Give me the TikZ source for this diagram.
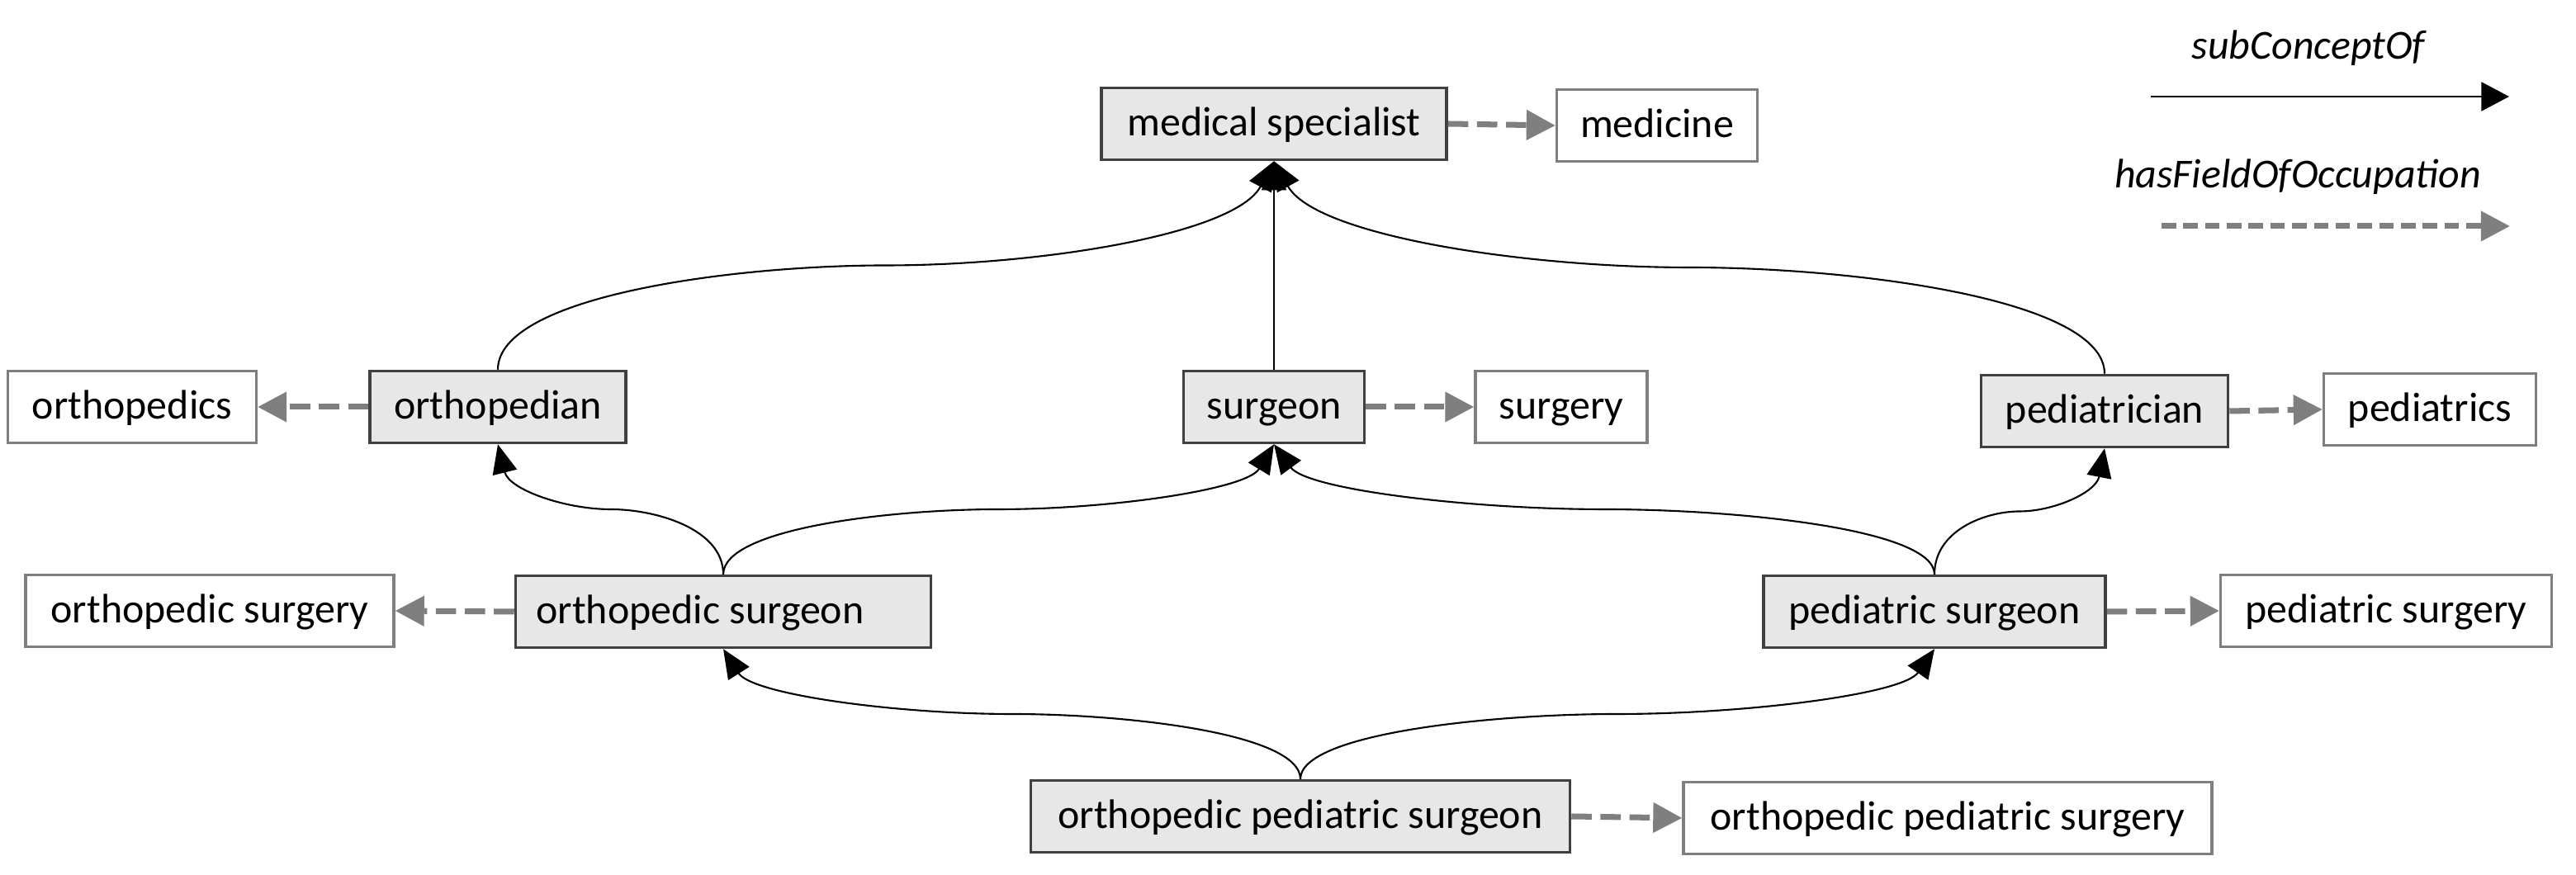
\documentclass[tikz,border=0pt]{standalone}
\usepackage{fontspec}
\setmainfont{Carlito}
\usetikzlibrary{arrows.meta, calc}
\definecolor{conceptgray}{RGB}{231,231,231}
\definecolor{darkedge}{RGB}{64,64,64}
\definecolor{occgray}{RGB}{127,127,127}

\begin{document}
\begin{tikzpicture}[
  conceptbox/.style={draw=darkedge, line width=1pt, fill=conceptgray, minimum height=0.87cm, inner sep=0pt, text height=0.38cm, text depth=0.08cm},
  fieldbox/.style={draw=occgray, line width=0.9pt, fill=white, minimum height=0.87cm, inner sep=0pt, text height=0.38cm, text depth=0.08cm},
  isa/.style={-{Triangle[length=10pt, width=8.5pt]}, line width=0.6pt, black},
  % two bends, level in the middle
  isacurve/.style={isa, to path={let \p1=(\tikztostart), \p2=(\tikztotarget), \p3=($(\p1)!0.5!(\p2)$) in
    .. controls +(0pt,{0.35*(\y2-\y1)}) and +({-0.2*(\x2-\x1)},0pt) .. (\p3)
    .. controls +({0.2*(\x2-\x1)},0pt) and +({-0.05*(\x2-\x1)},{-0.35*(\y2-\y1)}) .. (\tikztotarget)}},
  occ/.style={-{Triangle[length=10pt, width=10pt]}, line width=2pt, occgray, dash pattern=on 7pt off 3pt},
  font=\fontsize{14.2}{17}\selectfont
]
  \useasboundingbox (0,0) rectangle (31.2,10.6);

  % Top concept
  \node[conceptbox, minimum width=4.18cm] (ms) at (15.43, 9.10) {medical specialist};
  \node[fieldbox, minimum width=2.43cm] (medi) at (20.07, 9.08) {medicine};

  % Middle row
  \node[fieldbox, minimum width=3.01cm] (orthics) at (1.60, 5.67) {orthopedics};
  \node[conceptbox, minimum width=3.10cm] (orth) at (6.03, 5.67) {orthopedian};
  \node[conceptbox, minimum width=2.19cm] (surg) at (15.43, 5.67) {surgeon};
  \node[fieldbox, minimum width=2.08cm] (surgy) at (18.91, 5.67) {surgery};
  \node[conceptbox, minimum width=2.99cm] (ped) at (25.49, 5.62) {pediatrician};
  \node[fieldbox, minimum width=2.57cm] (peds) at (29.43, 5.64) {pediatrics};

  % Surgeon row
  \node[fieldbox, minimum width=4.46cm] (osy) at (2.54, 3.20) {orthopedic surgery};
  \node[conceptbox, minimum width=5.03cm] (os) at (8.76, 3.19) {\makebox[4.53cm][l]{orthopedic surgeon}};
  \node[conceptbox, minimum width=4.14cm] (ps) at (23.43, 3.19) {pediatric surgeon};
  \node[fieldbox, minimum width=4.01cm] (psy) at (28.90, 3.20) {pediatric surgery};

  % Bottom concept
  \node[conceptbox, minimum width=6.53cm] (ops) at (15.75, 0.71) {orthopedic pediatric surgeon};
  \node[fieldbox, minimum width=6.40cm] (opsy) at (23.59, 0.69) {orthopedic pediatric surgery};

  % subConceptOf links
  \draw[isacurve] (orth.north) to (ms.south);
  \draw[isa] (surg.north) -- (ms.south);
  \draw[isacurve] (ped.north) to (ms.south);
  \draw[isacurve] (os.north) to (orth.south);
  \draw[isacurve] (os.north) to (surg.south);
  \draw[isacurve] (ps.north) to (surg.south);
  \draw[isacurve] (ps.north) to (ped.south);
  \draw[isacurve] (ops.north) to (os.south);
  \draw[isacurve] (ops.north) to (ps.south);

  % hasFieldOfOccupation links
  \draw[occ] (ms.east) -- (medi.west);
  \draw[occ] (orth.west) -- (orthics.east);
  \draw[occ] (surg.east) -- (surgy.west);
  \draw[occ] (ped.east) -- (peds.west);
  \draw[occ] (os.west) -- (osy.east);
  \draw[occ] (ps.east) -- (psy.west);
  \draw[occ] (ops.east) -- (opsy.west);

  % Legend
  \node[font=\fontsize{14.2}{17}\selectfont\itshape, text height=0.38cm, text depth=0.08cm] (subl) at (27.96, 10.03) {subConceptOf};
  \coordinate (subA) at (26.05, 9.43);
  \coordinate (subB) at (30.39, 9.43);
  \draw[isa, -{Triangle[length=9.6pt, width=10pt]}] (subA) -- (subB);
  \node[font=\fontsize{14.2}{17}\selectfont\itshape, text height=0.38cm, text depth=0.08cm] (occl) at (27.83, 8.47) {hasFieldOfOccupation};
  \coordinate (occA) at (26.18, 7.86);
  \coordinate (occB) at (30.40, 7.86);
  \draw[occ, dash pattern=on 5pt off 2.5pt] (occA) -- (occB);
\end{tikzpicture}
\end{document}
